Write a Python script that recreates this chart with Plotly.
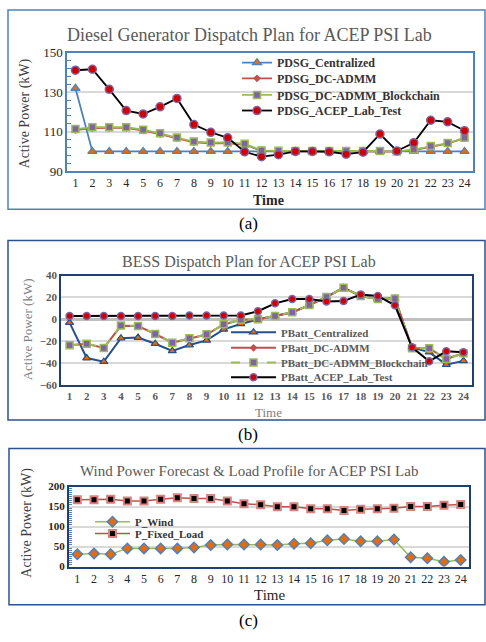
import plotly.graph_objects as go

W, H = 486, 642
hours = list(range(1, 25))
tick_text = [str(h) for h in hours]

# (a) Diesel generator dispatch (kW)
pdsg_central = [132, 100, 100, 100, 100, 100, 100, 100, 100, 100, 100, 100,
                100, 100, 100, 100, 100, 100, 100, 100, 100, 100, 100, 100]
pdsg_dcadmm = [110.8, 111.8, 111.9, 111.9, 110.6, 108.8, 106.6, 104.6, 104.1, 104.1, 103.5, 100.2,
               100.1, 100.1, 100.1, 100.1, 100.1, 100.1, 100.1, 99.9, 100.7, 102.4, 103.9, 106.7]
pdsg_block = [111.3, 112.3, 112.3, 112.3, 111.0, 109.2, 107.0, 105.0, 104.5, 104.5, 103.9, 100.5,
              100.3, 100.2, 100.2, 100.2, 100.2, 100.2, 100.2, 100.0, 100.9, 102.7, 104.2, 106.9]
pdsg_lab = [141.2, 141.7, 131.5, 120.7, 119.0, 122.6, 126.9, 113.6, 109.7, 106.9, 99.8, 97.3,
            98.3, 100.0, 100.0, 99.8, 98.6, 99.6, 108.8, 100.2, 104.4, 115.8, 115.0, 110.5]

# (b) BESS dispatch (kW)
pbatt_central = [-3.0, -35.4, -38.7, -17.3, -16.7, -22.3, -28.9, -23.5, -19.3, -9.2, -4.2, 0.0,
                 3.0, 6.5, 13.0, 20.5, 28.9, 21.4, 18.5, 19.0, -26.0, -30.0, -41.4, -38.0]
pbatt_dcadmm = [-23.8, -22.3, -26.2, -5.9, -6.2, -13.4, -21.4, -17.5, -13.9, -4.7, -0.5, 0.0,
                3.0, 6.3, 13.0, 20.3, 28.7, 21.2, 18.5, 19.0, -26.5, -26.5, -36.3, -31.0]
pbatt_block = [-23.8, -22.3, -26.2, -5.7, -6.0, -13.4, -21.4, -17.3, -13.7, -4.5, -0.3, 0.0,
               3.0, 6.5, 13.0, 20.5, 28.9, 21.4, 18.5, 19.0, -26.5, -26.5, -36.3, -31.0]
pbatt_lab = [3.0, 3.0, 3.0, 3.0, 3.0, 3.0, 3.0, 3.6, 3.6, 3.6, 3.6, 7.4,
             14.6, 18.5, 18.5, 16.4, 16.7, 22.6, 21.4, 12.8, -25.6, -38.4, -29.2, -30.0]

# (c) Wind forecast and load profile (kW)
p_wind = [30.9, 32.5, 31.0, 45.5, 45.5, 45.5, 45.5, 48.0, 53.7, 55.3, 55.3, 55.3,
          53.7, 57.0, 58.5, 65.9, 69.0, 63.4, 63.4, 67.5, 23.6, 21.0, 12.2, 16.3]
p_load = [166.7, 166.7, 168.0, 164.0, 164.0, 168.0, 172.0, 170.0, 170.0, 164.0, 157.0, 154.5,
          149.6, 149.6, 144.7, 144.7, 140.0, 143.0, 144.7, 146.0, 150.4, 150.4, 153.0, 155.0]

FONT = "Liberation Serif, Times New Roman, Times, serif"
BLUE = "#4F81BD"
NAVY = "#1F3F73"
RED = "#C0504D"
GREEN = "#9BBB59"
PURPLE = "#8064A2"
ORANGE = "#E46C0A"
DOTRED = "#D00000"
GRID = "#D9D9D9"
BNAVY = "#264F8C"


def px_x(v):
    return v / W


def px_y(v):
    return 1 - v / H


fig = go.Figure()

# series spec: (x, y, name, axes suffix, line, marker, legend left px, legend row px, itemwidth, font)
LEG_A = dict(family=FONT, size=12, color="#333333", weight="bold")
LEG_B = dict(family=FONT, size=11, color="#595959", weight="bold")
LEG_C = dict(family=FONT, size=11, color="#333333", weight="bold")

series = [
    (pdsg_central, "PDSG_Centralized", "", dict(color=BLUE, width=1.8),
     dict(symbol="triangle-up", size=8, color=ORANGE, line=dict(color=BLUE, width=1.2)), 237, 57, 30, LEG_A),
    (pdsg_dcadmm, "PDSG_DC-ADMM", "", dict(color=RED, width=1.8),
     dict(symbol="diamond", size=6, color=RED), 237, 73, 30, LEG_A),
    (pdsg_block, "PDSG_DC-ADMM_Blockchain", "", dict(color=GREEN, width=1.8),
     dict(symbol="square", size=7, color=PURPLE, line=dict(color=GREEN, width=1.5)), 237, 90, 30, LEG_A),
    (pdsg_lab, "PDSG_ACEP_Lab_Test", "", dict(color="black", width=1.8),
     dict(symbol="circle", size=8, color=DOTRED, line=dict(color=PURPLE, width=1.5)), 237, 106, 30, LEG_A),
    (pbatt_central, "PBatt_Centralized", "2", dict(color=BNAVY, width=2),
     dict(symbol="triangle-up", size=7, color=ORANGE, line=dict(color=BNAVY, width=1.2)), 226, 333, 45, LEG_B),
    (pbatt_dcadmm, "PBatt_DC-ADMM", "2", dict(color=RED, width=2),
     dict(symbol="diamond", size=6, color=RED), 226, 349, 45, LEG_B),
    (pbatt_block, "PBatt_DC-ADMM_Blockchain", "2", dict(color=GREEN, width=2, dash="dash"),
     dict(symbol="square", size=7, color=PURPLE, line=dict(color=GREEN, width=1.5)), 226, 364, 45, LEG_B),
    (pbatt_lab, "PBatt_ACEP_Lab_Test", "2", dict(color="black", width=2),
     dict(symbol="circle", size=7, color=DOTRED, line=dict(color=PURPLE, width=1.5)), 226, 379, 45, LEG_B),
    (p_wind, "P_Wind", "3", dict(color=GREEN, width=1.5),
     dict(symbol="diamond", size=8, color=ORANGE, line=dict(color=BLUE, width=1.5)), 90, 527, 35, LEG_C),
    (p_load, "P_Fixed_Load", "3", dict(color=RED, width=1.5),
     dict(symbol="square", size=7, color="black", line=dict(color="#D9827F", width=2)), 90, 539, 35, LEG_C),
]

legends = {}
for i, (yv, name, ax, line, marker, lx, ly, iw, lfont) in enumerate(series):
    lname = "legend" if i == 0 else f"legend{i + 1}"
    fig.add_trace(go.Scatter(x=hours, y=yv, name=name, mode="lines+markers",
                             line=line, marker=marker,
                             xaxis="x" + ax, yaxis="y" + ax, legend=lname))
    legends[lname] = dict(x=px_x(lx), y=px_y(ly), xanchor="left", yanchor="middle",
                          bgcolor="rgba(0,0,0,0)", itemwidth=iw, font=lfont)

xcommon = dict(range=[0.5, 24.5], tickmode="array", tickvals=hours, ticktext=tick_text,
               showgrid=False, zeroline=False, showline=True, mirror=True, ticks="", fixedrange=True)

fig.update_layout(
    width=W, height=H, margin=dict(l=0, r=0, t=0, b=0),
    paper_bgcolor="white", plot_bgcolor="white",
    font=dict(family=FONT, color="#262626"),
    xaxis=dict(xcommon, domain=[px_x(67), px_x(473)], anchor="y",
               linecolor=BLUE, linewidth=1.5,
               tickfont=dict(family=FONT, size=12, color="#262626")),
    yaxis=dict(domain=[px_y(168), px_y(47)], anchor="x", range=[90, 150], tick0=90, dtick=20,
               showgrid=True, gridcolor=GRID, gridwidth=1.5, zeroline=False,
               showline=True, mirror=True, linecolor=BLUE, linewidth=1.5,
               ticks="", tickfont=dict(family=FONT, size=13, color="#262626"),
               minor=dict(tick0=90, dtick=4, ticks="inside", ticklen=4, tickcolor=BLUE, showgrid=False)),
    xaxis2=dict(xcommon, domain=[px_x(61), px_x(472)], anchor="y2",
                linecolor=NAVY, linewidth=1.5,
                tickfont=dict(family=FONT, size=11, color="#595959", weight="bold")),
    yaxis2=dict(domain=[px_y(387), px_y(275)], anchor="x2", range=[-60, 40], dtick=20,
                showgrid=True, gridcolor=GRID, gridwidth=1.5,
                zeroline=True, zerolinecolor="#BFBFBF", zerolinewidth=2.5,
                showline=True, mirror=True, linecolor=NAVY, linewidth=1.5,
                ticks="", tickfont=dict(family=FONT, size=11, color="#595959", weight="bold")),
    xaxis3=dict(xcommon, domain=[px_x(69), px_x(469)], anchor="y3",
                linecolor=NAVY, linewidth=2,
                tickfont=dict(family=FONT, size=12, color="#262626")),
    yaxis3=dict(domain=[px_y(573), px_y(491)], anchor="x3", range=[0, 200], dtick=50,
                showgrid=True, gridcolor=GRID, gridwidth=1.5, zeroline=False,
                showline=True, mirror=True, linecolor=NAVY, linewidth=2,
                ticks="", tickfont=dict(family=FONT, size=11, color="#262626", weight="bold"),
                minor=dict(dtick=5, ticks="inside", ticklen=3, tickcolor=BLUE, showgrid=False)),
    showlegend=True,
    **legends,
)

# Outer panel boxes
boxes = [(8, 3, 485, 207, BLUE), (8, 239, 485, 423, "#2E5090"), (9, 452, 485, 612, "#2E5090")]
for x0, y0, x1, y1, c in boxes:
    fig.add_shape(type="rect", xref="paper", yref="paper",
                  x0=px_x(x0), x1=px_x(x1), y0=px_y(y1), y1=px_y(y0),
                  line=dict(color=c, width=1.5), fillcolor="rgba(0,0,0,0)", layer="below")

ann = [
    ("Diesel Generator Dispatch Plan for ACEP PSI Lab", 249, 29, 18, "#595959", "normal", 0),
    ("Active Power (kW)", 25, 109, 14, "#404040", "normal", -90),
    ("Time", 268, 198, 14, "#262626", "bold", 0),
    ("(a)", 248, 222, 17, "black", "normal", 0),
    ("BESS Dispatch Plan for ACEP PSI Lab", 249, 261, 16, "#595959", "normal", 0),
    ("Active Power (kW)", 27, 330, 13, "#7F7F7F", "normal", -90),
    ("Time", 268, 415, 13, "#7F7F7F", "normal", 0),
    ("(b)", 248, 438, 17, "black", "normal", 0),
    ("Wind Power Forecast & Load Profile for ACEP PSI Lab", 249, 475, 15, "#595959", "normal", 0),
    ("Active Power (kW)", 27, 528, 14, "#404040", "normal", -90),
    ("Time", 269, 602, 15, "#262626", "normal", 0),
    ("(c)", 248, 628, 17, "black", "normal", 0),
]
for text, x, y, size, color, weight, ang in ann:
    fig.add_annotation(text=text, xref="paper", yref="paper", x=px_x(x), y=px_y(y),
                       xanchor="center", yanchor="middle", showarrow=False, textangle=ang,
                       font=dict(family=FONT, size=size, color=color, weight=weight))

fig.write_html("out.html")
